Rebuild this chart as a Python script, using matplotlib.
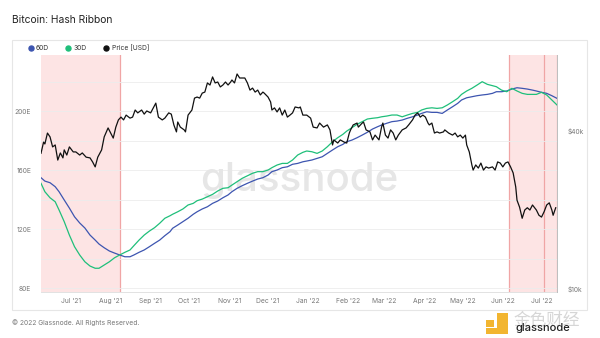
import matplotlib
matplotlib.use("Agg")
import matplotlib.pyplot as plt
import matplotlib.dates as mdates
from matplotlib.lines import Line2D
from matplotlib.patches import Rectangle
import numpy as np

plt.rcParams["font.family"] = ["Inter", "DejaVu Sans"]

# ── Data ──────────────────────────────────────────────────────────────────────
start = np.datetime64("2021-06-08")
end = np.datetime64("2022-07-13")

# hash rate moving averages (EH/s), sampled every few days
hash_days = [0, 3, 7, 11, 14, 18, 22, 26, 30, 34, 38, 42, 45, 49, 53, 57, 61, 65, 69, 72,
             76, 80, 84, 88, 92, 96, 100, 102, 106, 110, 114, 118, 121, 125, 129, 133, 137, 141, 145, 148,
             152, 156, 160, 164, 168, 172, 176, 179, 183, 187, 191, 195, 199, 203, 206, 210, 214, 218, 222, 226,
             230, 234, 237, 241, 245, 249, 253, 257, 261, 264, 268, 272, 276, 280, 284, 288, 292, 295, 299, 303,
             307, 311, 315, 319, 323, 326, 330, 334, 338, 342, 346, 350, 353, 357, 361, 365, 369, 373, 377, 381,
             384, 388, 392, 396, 400]
ma60 = [154.8, 152.5, 151.4, 148.7, 145.3, 139.7, 134.2, 128.3, 124.1, 120.7,
        115.9, 112.5, 109.8, 107.3, 105.1, 103.7, 102.4, 101.2, 101.2, 102.4,
        104.2, 105.8, 108.0, 110.3, 112.5, 115.5, 118.2, 120.5, 122.7, 125.0,
        127.3, 130.0, 131.7, 133.6, 135.1, 137.4, 139.0, 141.2, 143.1, 145.3,
        147.6, 149.4, 151.0, 152.5, 153.9, 154.8, 156.6, 158.9, 160.0, 161.6,
        162.2, 163.9, 164.5, 165.6, 166.1, 166.8, 167.9, 169.0, 171.3, 173.6,
        175.8, 177.4, 179.2, 180.3, 181.9, 183.7, 185.6, 187.8, 189.4, 190.5,
        191.7, 192.8, 193.2, 193.9, 195.1, 196.1, 197.3, 198.4, 199.5, 199.1,
        199.1, 198.4, 200.7, 202.9, 205.2, 207.5, 209.0, 209.7, 210.4, 210.9,
        211.3, 212.0, 213.1, 213.1, 213.6, 214.9, 215.8, 215.4, 214.9, 214.2,
        213.6, 212.7, 212.0, 210.4, 208.6]
ma30 = [151.0, 145.3, 141.2, 138.5, 132.9, 125.0, 115.9, 108.0, 102.4, 97.8,
        94.9, 93.4, 93.4, 95.6, 97.8, 100.5, 102.4, 104.2, 105.8, 108.7,
        112.5, 115.9, 118.6, 120.9, 123.9, 127.3, 129.0, 130.0, 131.7, 133.6,
        136.3, 137.4, 139.2, 140.3, 141.9, 143.5, 145.8, 147.6, 148.0, 149.8,
        152.1, 154.4, 156.1, 157.8, 158.9, 158.9, 160.0, 161.6, 163.4, 164.5,
        164.5, 166.8, 170.2, 172.0, 172.9, 172.4, 171.3, 172.9, 175.8, 179.2,
        181.9, 184.2, 186.4, 188.7, 191.0, 192.8, 194.6, 195.1, 195.5, 196.1,
        196.6, 197.3, 197.3, 196.1, 197.3, 198.4, 199.1, 200.7, 201.8, 202.2,
        201.8, 202.2, 204.1, 206.3, 208.6, 211.3, 213.6, 215.4, 217.6, 219.9,
        218.1, 217.2, 216.5, 214.2, 213.1, 215.4, 213.6, 212.0, 211.3, 211.3,
        211.3, 212.7, 210.9, 207.5, 204.1]

# BTC price (thousand USD)
price_days = [0, 2, 3, 5, 7, 9, 11, 13, 15, 17, 18, 20, 22, 25, 27, 30, 32, 35, 38, 40,
              42, 44, 47, 49, 52, 54, 56, 58, 60, 62, 64, 66, 69, 71, 73, 75, 78, 80, 82, 85,
              87, 89, 91, 94, 96, 99, 101, 103, 105, 106, 108, 111, 112, 114, 117, 119, 121, 123, 125, 127,
              129, 131, 133, 135, 137, 139, 141, 143, 145, 147, 148, 150, 152, 154, 156, 158, 160, 162, 164, 166,
              168, 170, 172, 173, 176, 178, 179, 181, 183, 185, 187, 189, 191, 193, 195, 197, 200, 201, 203, 206,
              209, 211, 214, 216, 219, 222, 224, 226, 227, 230, 232, 235, 237, 239, 240, 242, 245, 246, 249, 250,
              252, 255, 257, 259, 262, 264, 265, 267, 269, 271, 273, 275, 277, 280, 283, 285, 288, 290, 292, 294,
              296, 298, 300, 301, 303, 305, 307, 309, 312, 313, 316, 319, 321, 323, 325, 327, 329, 330, 332, 334,
              335, 337, 339, 341, 343, 345, 347, 350, 352, 354, 356, 358, 360, 362, 364, 366, 368, 369, 371, 373,
              375, 377, 379, 381, 384, 386, 388, 390, 392, 394, 396, 397, 399]
price_k = [32.9, 36.3, 35.7, 39.3, 38.0, 34.8, 35.4, 31.0, 33.0, 31.6,
           33.9, 32.4, 34.8, 33.3, 33.3, 32.4, 33.0, 31.8, 31.6, 30.5,
           29.2, 31.8, 33.9, 38.0, 41.1, 39.3, 37.6, 41.4, 44.1, 45.2,
           44.1, 46.0, 44.8, 45.2, 48.1, 46.9, 48.1, 46.4, 47.7, 46.9,
           49.0, 51.1, 45.2, 44.1, 44.8, 46.9, 46.4, 42.2, 39.7, 43.3,
           41.4, 40.4, 39.7, 46.0, 48.1, 53.4, 53.9, 53.4, 55.8, 56.3,
           61.0, 59.9, 64.3, 61.0, 61.5, 58.9, 59.9, 61.5, 59.9, 61.5,
           62.6, 61.0, 66.0, 63.7, 63.7, 63.7, 61.0, 57.3, 58.3, 56.3,
           57.3, 54.9, 56.3, 55.8, 53.9, 51.6, 48.1, 49.0, 47.3, 49.0,
           46.0, 48.1, 45.2, 46.0, 46.9, 49.4, 49.0, 49.4, 46.0, 46.0,
           44.8, 41.4, 41.1, 42.9, 41.4, 42.2, 40.4, 35.4, 37.0, 36.0,
           37.0, 36.3, 36.0, 39.3, 40.4, 42.2, 42.9, 41.4, 42.9, 43.3,
           40.4, 39.7, 37.0, 38.6, 37.0, 41.4, 42.9, 38.6, 37.6, 40.4,
           39.3, 37.0, 38.6, 40.4, 41.1, 42.2, 44.1, 46.0, 46.9, 45.2,
           46.0, 45.2, 42.9, 42.2, 42.9, 39.3, 39.7, 39.3, 39.7, 40.4,
           39.3, 38.6, 39.3, 38.0, 38.6, 37.6, 38.6, 35.4, 33.3, 29.7,
           28.4, 29.7, 28.9, 30.2, 28.4, 29.2, 28.9, 29.2, 28.4, 30.5,
           30.2, 29.2, 30.2, 30.5, 29.2, 27.7, 24.5, 21.8, 20.5, 18.6,
           20.0, 20.4, 20.0, 20.9, 20.0, 19.1, 18.8, 19.7, 20.9, 21.3,
           20.0, 19.1, 20.4]

# miner capitulation periods (30D below 60D)
bands = [("2021-06-08", "2021-08-08"),
         ("2022-06-06", "2022-07-03"),
         ("2022-07-03", "2022-07-13")]

hash_ticks = [80, 120, 160, 200]
hash_minor = [100, 140, 180, 220]
price_ticks = [10000, 40000]
price_labels = ["$10k", "$40k"]

c60 = "#3d55b0"
c30 = "#1fbf7a"
cprice = "#111111"

W, H = 600, 338


def fx(x):
    return x / W


def fy(y):
    return 1 - y / H


hash_dates = start + np.array(hash_days).astype("timedelta64[D]")
price_dates = start + np.array(price_days).astype("timedelta64[D]")
price_usd = np.array(price_k) * 1000

fig = plt.figure(figsize=(6, 3.38), dpi=100)
fig.patch.set_facecolor("white")

# card frame
fig.patches.append(Rectangle((fx(12), fy(310)), fx(587) - fx(12), fy(40) - fy(310),
                             transform=fig.transFigure, facecolor="none",
                             edgecolor="#e6e6e6", linewidth=0.8, zorder=-1))

ax = fig.add_axes([fx(41), fy(292), fx(557) - fx(41), fy(55) - fy(292)])
ax.set_facecolor("none")

for b0, b1 in bands:
    d0, d1 = np.datetime64(b0), np.datetime64(b1)
    ax.axvspan(d0, d1, color="#fde4e4", lw=0, zorder=0)
    ax.axvline(d1, color="#f0a5a5", lw=0.9, zorder=0.5)
ax.axvline(np.datetime64("2022-06-06"), color="#f0a5a5", lw=0.9, zorder=0.5)

ax.text(0.5, 0.47, "glassnode", transform=ax.transAxes, ha="center", va="center",
        fontsize=29, fontweight="medium", color="#e6e6e6", zorder=0.6)

ax.plot(hash_dates, ma60, color=c60, lw=0.9, zorder=3)
ax.plot(hash_dates, ma30, color=c30, lw=0.9, zorder=3)

ax.set_xlim(start, end)
ax.set_ylim(77.3, 238.0)
ax.set_yticks(hash_ticks)
ax.set_yticklabels([f"{v}E" for v in hash_ticks])
ax.set_yticks(hash_minor, minor=True)
ax.yaxis.grid(True, which="both", color="#ececec", lw=0.6)
ax.set_axisbelow(True)
ax.tick_params(axis="y", which="both", length=0, labelsize=4.8, labelcolor="#777777", pad=7)

ax.xaxis.set_major_locator(mdates.MonthLocator())
ax.xaxis.set_major_formatter(mdates.DateFormatter("%b '%y"))
ax.tick_params(axis="x", length=0, labelsize=4.8, labelcolor="#777777", pad=4)

for side in ["top", "left", "right"]:
    ax.spines[side].set_visible(False)
ax.spines["bottom"].set_color("#e2e2e2")
ax.spines["bottom"].set_linewidth(0.7)

ax2 = ax.twinx()
ax2.plot(price_dates, price_usd, color=cprice, lw=0.9, zorder=4)
ax2.set_yscale("log")
ax2.set_ylim(9740, 77950)
ax2.set_yticks(price_ticks)
ax2.set_yticklabels(price_labels)
ax2.yaxis.set_minor_locator(matplotlib.ticker.NullLocator())
ax2.tick_params(axis="y", length=0, labelsize=4.8, labelcolor="#777777", pad=8)
for side in ["top", "left", "bottom"]:
    ax2.spines[side].set_visible(False)
ax2.spines["right"].set_color("#bdbdbd")
ax2.spines["right"].set_linewidth(0.7)

# legend
handles = [Line2D([], [], marker="o", ls="", color=c, markersize=3.6) for c in (c60, c30, cprice)]
fig.legend(handles, ["60D", "30D", "Price [USD]"], loc="center left",
           bbox_to_anchor=(fx(24), fy(48)), ncol=3, frameon=False, fontsize=4.8,
           handletextpad=0.3, columnspacing=2.4, borderpad=0, handlelength=1.0,
           labelcolor="#333333")

fig.text(fx(12), fy(20), "Bitcoin: Hash Ribbon", fontsize=7.4, color="#222222",
         ha="left", va="center")
fig.text(fx(12), fy(323), "© 2022 Glassnode. All Rights Reserved.", fontsize=4.8,
         color="#777777", ha="left", va="center")

# republisher mark, bottom right
for x0, y0, x1, y1 in [(486, 320, 494, 327), (497, 313, 508, 334), (486, 328, 508, 334)]:
    fig.patches.append(Rectangle((fx(x0), fy(y1)), fx(x1) - fx(x0), fy(y0) - fy(y1),
                                 transform=fig.transFigure, color="#f2b530", lw=0))
fig.text(fx(513), fy(320), "金色财经", fontsize=12, color="#d6d6d6", ha="left", va="center",
         family=["Noto Sans CJK SC", "DejaVu Sans"])
fig.text(fx(516), fy(328), "glassnode", fontsize=8, color="#222222", ha="left", va="center",
         fontweight="medium")

fig.savefig("out.png", dpi=100, facecolor="white")
